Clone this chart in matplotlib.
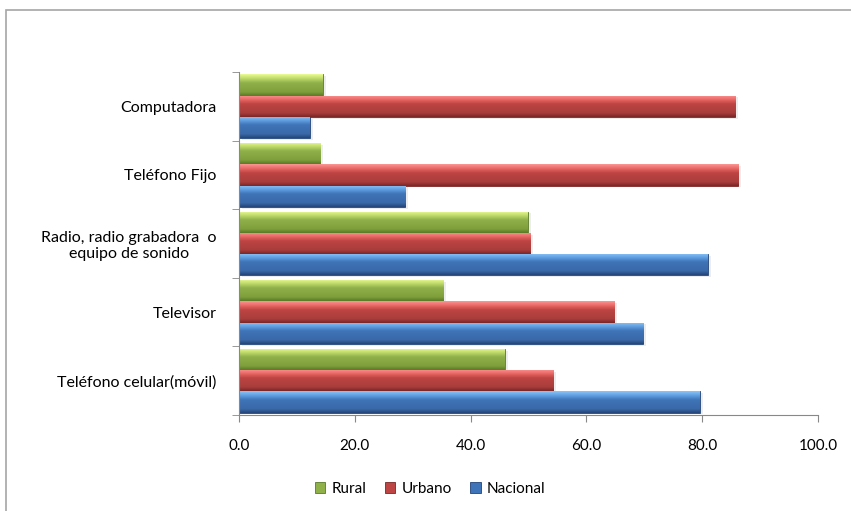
import matplotlib
matplotlib.use('Agg')
import matplotlib.pyplot as plt
from matplotlib.patches import Rectangle
from matplotlib.colors import LinearSegmentedColormap
import numpy as np

categorias = ['Teléfono celular(móvil)', 'Televisor', 'Radio, radio grabadora  o\nequipo de sonido',
              'Teléfono Fijo', 'Computadora']
nacional = [79.6, 69.8, 81.0, 28.7, 12.2]
urbano = [54.3, 64.8, 50.3, 86.2, 85.7]
rural = [45.9, 35.3, 49.9, 14.0, 14.5]
xticks = [0, 20, 40, 60, 80, 100]

plt.rcParams['font.family'] = ['Lato', 'DejaVu Sans']

fig = plt.figure(figsize=(8.51, 5.11), dpi=100)
# marco del grafico
fig.patches.append(Rectangle((6 / 851, -0.1), 1.1, (511 - 10) / 511 + 0.1, transform=fig.transFigure,
                             fill=False, edgecolor='#a6a6a6', linewidth=1.2))
ax = fig.add_axes([239 / 851, (511 - 415) / 511, (818 - 239) / 851, (415 - 72) / 511])

y = np.arange(len(categorias))
h = 0.31
pos = [0.0, 0.18, 0.6, 0.8, 1.0]
series = [(nacional, -h, ['#24457a', '#3a69a8', '#3f74b8', '#5f9de0', '#8cc4f7'], 'Nacional'),
          (urbano, 0, ['#7a2726', '#a83d3b', '#bd4543', '#e86664', '#fb9593'], 'Urbano'),
          (rural, h, ['#5a7a28', '#7f9f3c', '#90b04a', '#bcd96a', '#eafb94'], 'Rural')]
grad = np.linspace(0, 1, 64).reshape(-1, 1)
handles = {}
for vals, off, cols, name in series:
    cmap = LinearSegmentedColormap.from_list(name, list(zip(pos, cols)))
    # sombra
    ax.barh(y + off - 0.025, vals, height=h, left=0.5, color='#000000', alpha=0.07, zorder=1)
    bars = ax.barh(y + off, vals, height=h, color=cols[2], edgecolor=cols[0], linewidth=0.6,
                   zorder=2, label=name)
    for p in bars:
        x0, y0 = p.get_x(), p.get_y()
        im = ax.imshow(grad, cmap=cmap, aspect='auto', origin='lower', zorder=2.5,
                       extent=(x0, x0 + p.get_width(), y0, y0 + p.get_height()))
        im.set_clip_path(p)
    handles[name] = bars

ax.set_xlim(0, 100)
ax.set_ylim(-0.5, len(categorias) - 0.5)
ax.set_xticks(xticks)
ax.set_xticklabels(['%.1f' % v for v in xticks], fontsize=11)
ax.set_yticks(y)
ax.set_yticklabels(categorias, fontsize=11.5, multialignment='center')
ax.set_yticks(np.arange(len(categorias) + 1) - 0.5, minor=True)
ax.tick_params(axis='y', which='major', length=0, pad=16)
ax.tick_params(axis='y', which='minor', length=5, color='#888888')
ax.tick_params(axis='x', length=5, color='#888888', pad=12)
for s in ['top', 'right']:
    ax.spines[s].set_visible(False)
for s in ['left', 'bottom']:
    ax.spines[s].set_color('#888888')

fig.legend([handles['Rural'], handles['Urbano'], handles['Nacional']], ['Rural', 'Urbano', 'Nacional'],
           loc='center', bbox_to_anchor=(430 / 851, (511 - 489) / 511), ncol=3, frameon=False,
           fontsize=11, handlelength=0.7, handleheight=0.7, handletextpad=0.4, columnspacing=1.2)

fig.savefig('out.png', dpi=100)
